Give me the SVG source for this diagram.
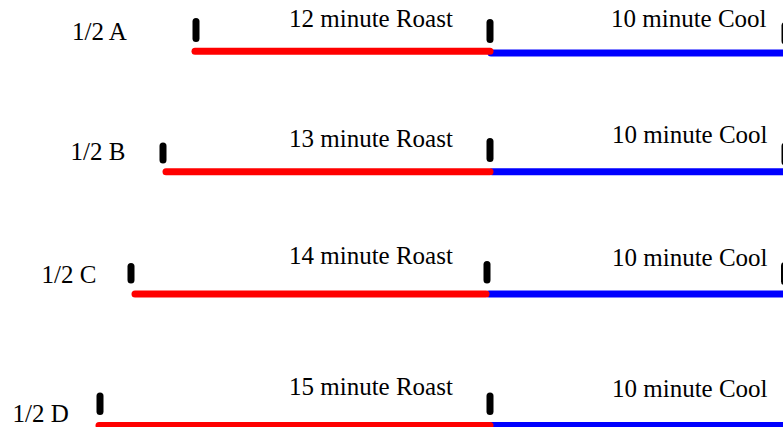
<svg xmlns="http://www.w3.org/2000/svg" width="783" height="427" viewBox="0 0 783 427">
<style>
text{font-family:'Liberation Serif','Times New Roman','DejaVu Serif',serif;font-size:25px;fill:#000}
.tick{stroke:#000;stroke-width:7;stroke-linecap:round;fill:none}
.roast{stroke:#ff0000;stroke-width:7;stroke-linecap:round;fill:none}
.cool{stroke:#0000ff;stroke-width:7;stroke-linecap:round;fill:none}
</style>
<rect width="783" height="427" fill="#fff"/>
<g id="connectors">
<line class="cool" x1="491" y1="53" x2="790" y2="53"/>
<line class="roast" x1="195" y1="51.3" x2="490" y2="51.3"/>
<line class="cool" x1="492" y1="171.7" x2="790" y2="171.7"/>
<line class="roast" x1="166" y1="171.7" x2="490" y2="171.7"/>
<line class="cool" x1="489" y1="294" x2="790" y2="294"/>
<line class="roast" x1="135" y1="294" x2="486" y2="294"/>
<line class="cool" x1="491" y1="425.5" x2="790" y2="425.5"/>
<line class="roast" x1="99" y1="425.5" x2="490" y2="425.5"/>
</g>
<g id="row-a">
<text x="72" y="40" font-family="Liberation Serif, serif">1/2 A</text>
<text x="289" y="27" font-family="Liberation Serif, serif">12 minute Roast</text>
<text x="611" y="27" font-family="Liberation Serif, serif">10 minute Cool</text>
<line class="tick" x1="196" y1="21.5" x2="196" y2="38.5"/>
<line class="tick" x1="490" y1="22.5" x2="490" y2="39.5"/>
<line class="tick" x1="785" y1="25.5" x2="785" y2="41"/>
</g>
<g id="row-b">
<text x="70.5" y="160" font-family="Liberation Serif, serif">1/2 B</text>
<text x="289" y="147" font-family="Liberation Serif, serif">13 minute Roast</text>
<text x="612" y="143" font-family="Liberation Serif, serif">10 minute Cool</text>
<line class="tick" x1="163" y1="146" x2="163" y2="160"/>
<line class="tick" x1="490" y1="141.5" x2="490" y2="158.5"/>
<line class="tick" x1="785" y1="146" x2="785" y2="162"/>
</g>
<g id="row-c">
<text x="41.5" y="283" font-family="Liberation Serif, serif">1/2 C</text>
<text x="289" y="264" font-family="Liberation Serif, serif">14 minute Roast</text>
<text x="612" y="266" font-family="Liberation Serif, serif">10 minute Cool</text>
<line class="tick" x1="131" y1="266.5" x2="131" y2="280"/>
<line class="tick" x1="487" y1="264.5" x2="487" y2="280"/>
<line class="tick" x1="784.5" y1="265.5" x2="784.5" y2="281.5"/>
</g>
<g id="row-d">
<text x="12.5" y="422" font-family="Liberation Serif, serif">1/2 D</text>
<text x="289" y="395" font-family="Liberation Serif, serif">15 minute Roast</text>
<text x="612" y="396.5" font-family="Liberation Serif, serif">10 minute Cool</text>
<line class="tick" x1="100" y1="396" x2="100" y2="411.5"/>
<line class="tick" x1="490" y1="396" x2="490" y2="411.5"/>
</g>
</svg>
